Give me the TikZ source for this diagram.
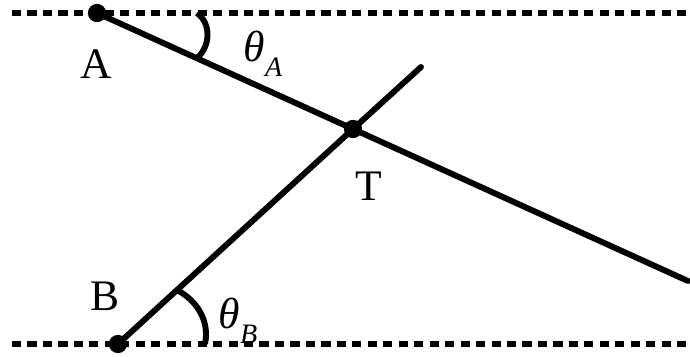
\documentclass[tikz,border=0pt]{standalone}
\usepackage{fontspec}
\setmainfont{Liberation Serif}
\usetikzlibrary{positioning}

\tikzset{
    bound/.style={line width=4.5pt, dash pattern=on 6.5pt off 4.5pt},
    rod/.style={line width=4.2pt, line cap=round},
    angarc/.style={line width=4.2pt},
    pin/.style={circle, fill=black, inner sep=0pt, minimum size=13pt},
    lbl/.style={font=\fontsize{31}{31}\selectfont},
}
\newcommand{\angname}[1]{\textit{θ}\raisebox{-0.35em}{\fontsize{20}{20}\selectfont\itshape #1}}

\begin{document}
\begin{tikzpicture}[x=0.025cm, y=-0.025cm]
\useasboundingbox (0,0) rectangle (690,356);
% walls
\coordinate (topL) at (12,13);
\coordinate (topR) at (690,13);
\coordinate (botL) at (12,344);
\coordinate (botR) at (690,344);
\draw[bound] (topL) -- (topR);
\draw[bound] (botL) -- (botR);
% points
\node[pin] (A) at (97,13) {};
\node[pin] (B) at (118,344) {};
\node[pin] (T) at (353,129) {};
\coordinate (endA) at (688,281);
\coordinate (endB) at (421,67);
\draw[rod] (A.center) -- (T.center) -- (endA);
\draw[rod] (B.center) -- (T.center) -- (endB);
% angles
\draw[angarc] (197,13) .. controls (211,23) and (211,46) .. (197,58);
\draw[angarc] (177,290) .. controls (196,300) and (210,320) .. (205,344);
% labels
\node[lbl] (labA) at (96,64) {A};
\node[lbl] (labB) at (105,296) {B};
\node[lbl] (labT) at (369,186) {T};
\node[lbl] (thA) at (263,54) {\angname{A}};
\node[lbl] (thB) at (238,321) {\angname{B}};
\end{tikzpicture}
\end{document}
